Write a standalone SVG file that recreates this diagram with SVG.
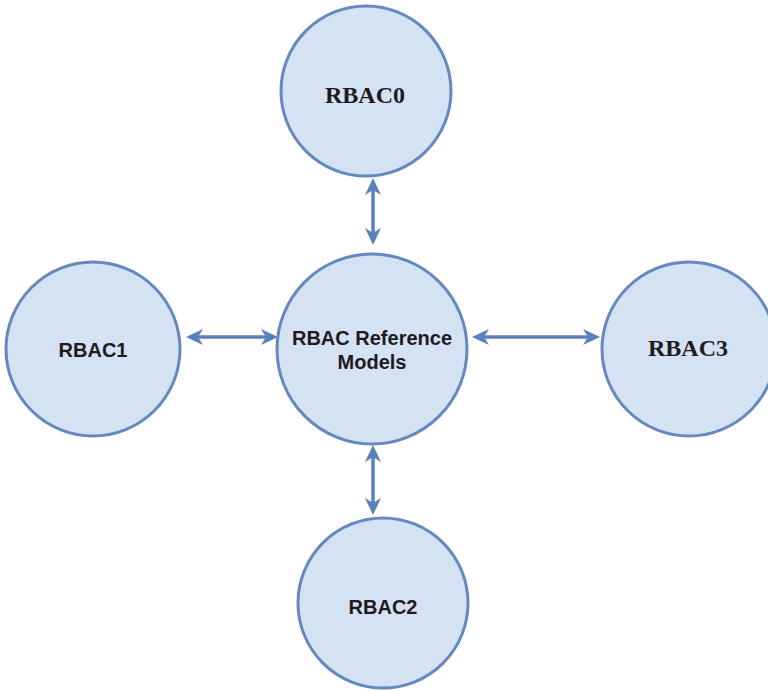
<svg xmlns="http://www.w3.org/2000/svg" width="768" height="691" viewBox="0 0 768 691">
  <style>
    .node { fill: #d5e2f4; stroke: #6688c0; stroke-width: 3; }
    .sans { font-family: "Liberation Sans", Arial, sans-serif; font-weight: bold; font-size: 20px; fill: #1c1c1c; text-anchor: middle; }
    .serif { font-family: "Liberation Serif", "Times New Roman", serif; font-weight: bold; font-size: 24px; fill: #1c1c1c; text-anchor: middle; }
    .link { stroke: #5b80bb; stroke-width: 3.5; fill: none; marker-start: url(#head); marker-end: url(#head); }
  </style>
  <defs>
    <!-- barbed arrowhead, tip 8px beyond the line end -->
    <marker id="head" viewBox="0 0 18 18" markerWidth="18" markerHeight="18" refX="9" refY="9" orient="auto-start-reverse" markerUnits="userSpaceOnUse">
      <path d="M0,1 L17,9 L0,17 L5,9 Z" fill="#5b80bb"/>
    </marker>
  </defs>
  <rect width="768" height="691" fill="#ffffff"/>

  <g id="connectors">
    <line class="link" x1="373" y1="186" x2="373" y2="237"/>
    <line class="link" x1="194" y1="337" x2="270" y2="337"/>
    <line class="link" x1="480" y1="337" x2="592" y2="337"/>
    <line class="link" x1="373" y1="453" x2="373" y2="507"/>
  </g>

  <g id="rbac0">
    <circle class="node" cx="366" cy="91" r="85"/>
    <text class="serif" x="365" y="103">RBAC0</text>
  </g>
  <g id="rbac-reference-models">
    <circle class="node" cx="372" cy="349" r="95"/>
    <text class="sans" x="372" y="345">RBAC Reference</text>
    <text class="sans" x="372" y="369">Models</text>
  </g>
  <g id="rbac1">
    <circle class="node" cx="93" cy="349" r="87"/>
    <text class="sans" x="93" y="357">RBAC1</text>
  </g>
  <g id="rbac3">
    <circle class="node" cx="689" cy="349" r="87"/>
    <text class="serif" x="688" y="356">RBAC3</text>
  </g>
  <g id="rbac2">
    <circle class="node" cx="383" cy="603" r="85"/>
    <text class="sans" x="383" y="614">RBAC2</text>
  </g>
</svg>
